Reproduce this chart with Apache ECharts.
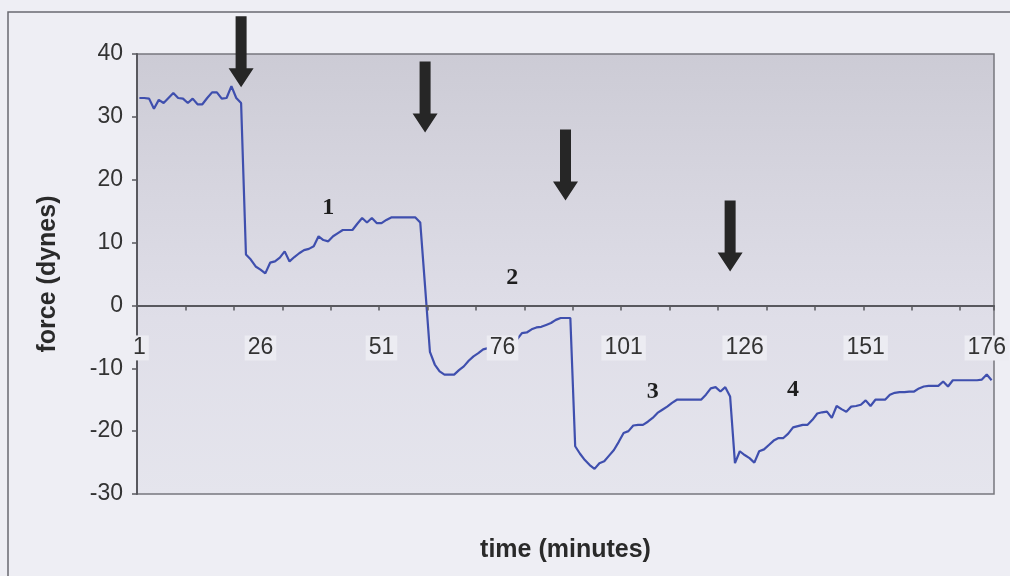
<!DOCTYPE html>
<html>
<head>
<meta charset="utf-8">
<script src="https://cdn.jsdelivr.net/npm/echarts@6/dist/echarts.min.js"></script>
<style>
  html, body { margin: 0; padding: 0; background: #eeeef4; }
  #chart { width: 1010px; height: 576px; }
</style>
</head>
<body>
<div id="chart"></div>
<script>
// Time axis: one reading per minute, 1..177
const minutes = [];
for (let m = 1; m <= 177; m++) minutes.push(String(m));

// Measured force (dynes) at each minute
const force = [
  33.0, 33.0, 32.9, 31.3, 32.7, 32.2, 33.0, 33.8, 33.0, 32.9,
  32.2, 32.9, 32.0, 32.0, 33.0, 33.9, 33.9, 32.9, 33.0, 34.9,
  33.0, 32.2, 8.1, 7.3, 6.2, 5.7, 5.1, 6.8, 7.0, 7.6,
  8.6, 7.0, 7.7, 8.3, 8.8, 9.0, 9.4, 11.0, 10.4, 10.2,
  11.0, 11.5, 12.0, 12.0, 12.0, 13.0, 13.9, 13.2, 13.9, 13.1,
  13.1, 13.6, 14.0, 14.0, 14.0, 14.0, 14.0, 14.0, 13.2, 3.0,
  -7.4, -9.4, -10.5, -11.0, -11.0, -11.0, -10.3, -9.7, -8.8, -8.1,
  -7.6, -7.0, -6.8, -6.6, -6.3, -6.2, -5.9, -5.6, -5.4, -4.4,
  -4.3, -3.8, -3.5, -3.4, -3.1, -2.8, -2.3, -2.0, -2.0, -2.0,
  -22.4, -23.6, -24.6, -25.4, -26.0, -25.1, -24.8, -23.9, -23.0, -21.7,
  -20.3, -20.0, -19.1, -19.0, -19.0, -18.5, -17.9, -17.1, -16.6, -16.1,
  -15.5, -15.0, -15.0, -15.0, -15.0, -15.0, -15.0, -14.2, -13.2, -13.0,
  -13.7, -13.0, -14.5, -25.1, -23.2, -23.8, -24.3, -25.0, -23.2, -22.9,
  -22.2, -21.5, -21.1, -21.1, -20.4, -19.4, -19.2, -19.0, -19.0, -18.2,
  -17.2, -17.0, -16.9, -17.9, -16.0, -16.5, -16.9, -16.1, -16.0, -15.8,
  -15.1, -16.0, -15.0, -15.0, -15.0, -14.2, -13.9, -13.8, -13.8, -13.7,
  -13.7, -13.2, -12.9, -12.8, -12.8, -12.8, -12.1, -12.9, -11.9, -11.9,
  -11.9, -11.9, -11.9, -11.9, -11.8, -11.0, -11.9
];

// Treatment markers (arrow tip position: minute, force)
const arrowMinutes = ['22', '60', '89', '123'];
const arrowTips = [34.7, 27.5, 16.7, 5.4];

// Phase numbers and where they sit
const phaseNames = ['1', '2', '3', '4'];
const phaseMinutes = ['40', '78', '107', '136'];
const phaseLevels = [15.6, 4.4, -13.7, -13.4];

const yTicks = { min: -30, max: 40, step: 10 };

// Plot box in pixels; the time axis is drawn along force = 0
const plotTop = 54, plotBottom = 82, chartHeight = 576;
const plotHeight = chartHeight - plotTop - plotBottom;
const zeroFromBottom = plotHeight * (0 - yTicks.min) / (yTicks.max - yTicks.min);

const arrowPath = 'path://M7,0 L18,0 L18,52 L25,52 L12.5,71 L0,52 L7,52 Z';

const markData = [];
arrowMinutes.forEach((m, i) => {
  markData.push({
    coord: [m, arrowTips[i]],
    symbol: arrowPath,
    symbolSize: [25, 71],
    symbolOffset: [0, '-50%'],
    itemStyle: { color: '#262626' },
    label: { show: false }
  });
});
phaseNames.forEach((n, i) => {
  markData.push({
    coord: [phaseMinutes[i], phaseLevels[i]],
    symbol: 'circle',
    symbolSize: 1,
    itemStyle: { color: 'rgba(0,0,0,0)' },
    label: {
      show: true,
      position: 'inside',
      formatter: n,
      color: '#1e1e1e',
      fontFamily: 'Liberation Serif',
      fontWeight: 'bold',
      fontSize: 24
    }
  });
});

const chart = echarts.init(document.getElementById('chart'), null, { renderer: 'canvas' });

chart.setOption({
  animation: false,
  backgroundColor: '#eeeef4',
  graphic: [{
    type: 'rect',
    shape: { x: 8, y: 12, width: 1100, height: 700 },
    style: { fill: 'none', stroke: '#6a6a70', lineWidth: 1.5 },
    silent: true,
    z: -1
  }],
  grid: {
    left: 137, right: 16, top: plotTop, bottom: plotBottom,
    outerBoundsMode: 'none',
    containLabel: false,
    show: true,
    borderColor: '#77777d',
    borderWidth: 1.5,
    backgroundColor: {
      type: 'linear', x: 0, y: 0, x2: 0, y2: 1,
      colorStops: [
        { offset: 0, color: '#cccbd5' },
        { offset: 0.3, color: '#d6d5df' },
        { offset: 0.6, color: '#dfdee8' },
        { offset: 1, color: '#e5e5ed' }
      ]
    }
  },
  xAxis: {
    type: 'category',
    data: minutes,
    boundaryGap: true,
    position: 'bottom',
    offset: -zeroFromBottom,
    z: 5,
    name: 'time (minutes)',
    nameLocation: 'middle',
    nameGap: 232,
    nameTextStyle: {
      fontFamily: 'Liberation Sans', fontWeight: 'bold', fontSize: 25, color: '#2a2a2a'
    },
    axisLine: { onZero: false, lineStyle: { color: '#58585e', width: 2 } },
    axisTick: { show: true, interval: 9, length: 5, lineStyle: { color: '#58585e', width: 1.5 } },
    axisLabel: {
      interval: 24,
      margin: 30,
      fontFamily: 'Liberation Sans',
      fontSize: 23,
      color: '#333',
      backgroundColor: '#ececf2',
      padding: [1, 3]
    },
    splitLine: { show: false }
  },
  yAxis: {
    type: 'value',
    min: yTicks.min,
    max: yTicks.max,
    interval: yTicks.step,
    name: 'force (dynes)',
    nameLocation: 'middle',
    nameRotate: 90,
    nameGap: 76,
    nameTextStyle: {
      fontFamily: 'Liberation Sans', fontWeight: 'bold', fontSize: 25, color: '#2a2a2a'
    },
    axisLine: { show: true, lineStyle: { color: '#58585e', width: 2 } },
    axisTick: { show: true, length: 5, lineStyle: { color: '#58585e', width: 1.5 } },
    axisLabel: {
      margin: 14,
      fontFamily: 'Liberation Sans',
      fontSize: 23,
      color: '#333'
    },
    splitLine: { show: false }
  },
  series: [{
    type: 'line',
    data: force,
    showSymbol: false,
    symbol: 'none',
    lineStyle: { color: '#3f4fae', width: 2.2 },
    markPoint: { data: markData, silent: true }
  }]
});
</script>
</body>
</html>
